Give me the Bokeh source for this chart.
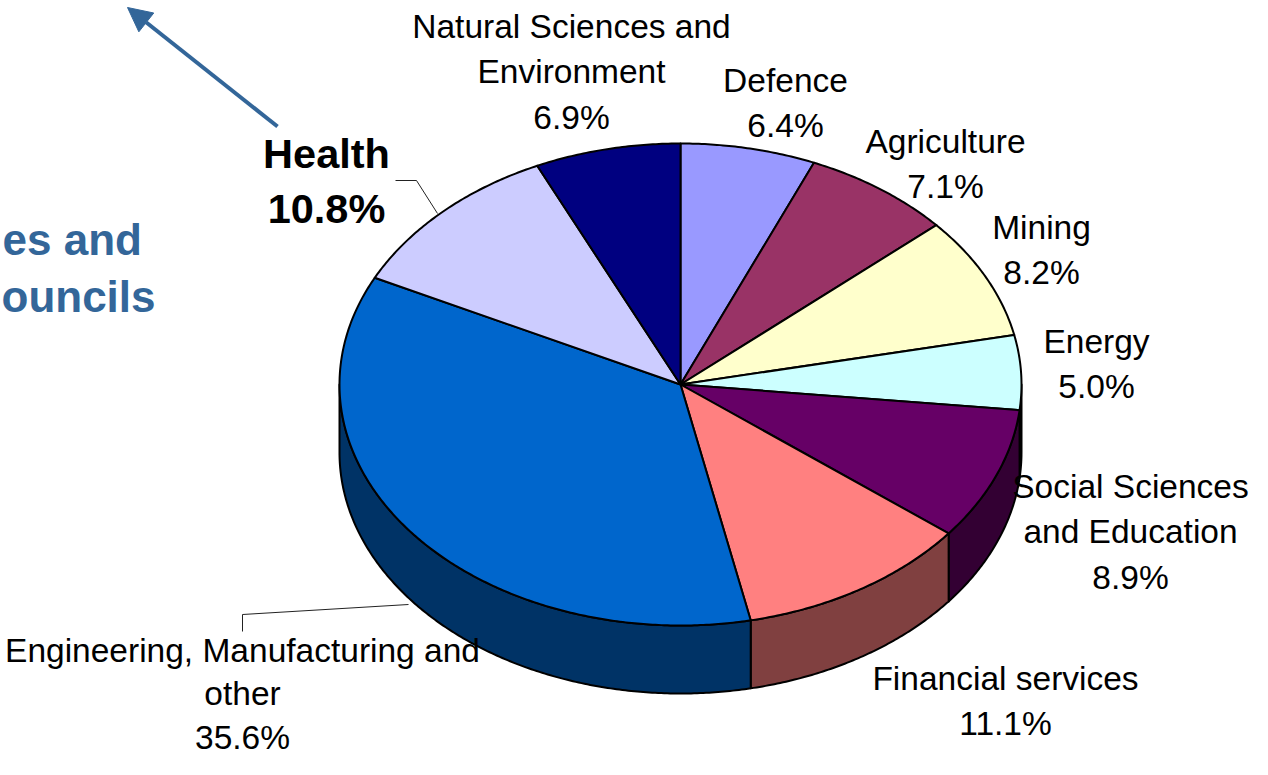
import numpy as np
from bokeh.plotting import figure
from bokeh.models import Range1d, Arrow, NormalHead, ColumnDataSource
from bokeh.core.properties import value
from bokeh.embed import file_html
from bokeh.resources import INLINE

# ---------------- data ----------------
sectors = ["Defence", "Agriculture", "Mining", "Energy",
           "Social Sciences and Education", "Financial services",
           "Engineering, Manufacturing and other", "Health",
           "Natural Sciences and Environment"]
shares = [6.4, 7.1, 8.2, 5.0, 8.9, 11.1, 35.6, 10.8, 6.9]
label_lines = [["Defence"], ["Agriculture"], ["Mining"], ["Energy"],
               ["Social Sciences", "and Education"], ["Financial services"],
               ["Engineering, Manufacturing and", "other"], ["Health"],
               ["Natural Sciences and", "Environment"]]
top_colors = ["#9999FF", "#993366", "#FFFFCC", "#CCFFFF", "#660066",
              "#FF8080", "#0066CC", "#CCCCFF", "#000080"]
side_colors = ["#4C4C80", "#4C1933", "#808066", "#668080", "#330033",
               "#804040", "#003366", "#666680", "#000040"]

# ---------------- layout ----------------
CX, CY, RX, RY, DEPTH = 680.0, 384.0, 341.0, 241.0, 68.0
label_anchor = [(785, 92), (945, 153), (1041, 239), (1096, 353), (1130, 498),
                (1005, 690), (242, 662), (326, 168), (571, 38)]
label_step = [45.5, 45.5, 45.5, 45.5, 45.5, 45.5, 43.5, 55.0, 45.5]
FONT = "Liberation Sans"
BLUE = "#336699"
REG_PX, BOLD_PX, SIDE_PX = 33.5, 41.5, 44.0
BASE_SHIFT = 0.36  # renderer places alphabetic baseline ~0.36em low

p = figure(width=1252, height=759, output_backend="svg", toolbar_location=None,
           x_range=Range1d(0, 1252), y_range=Range1d(759, 0),
           min_border=0, outline_line_color=None)
p.axis.visible = False
p.grid.visible = False
p.background_fill_color = "white"
p.border_fill_color = "white"

cum = np.concatenate([[0.0], np.cumsum(shares)])
t_start = 90.0 - 360.0 * cum[:-1] / 100.0
t_end = 90.0 - 360.0 * cum[1:] / 100.0


def arc(t0, t1, n):
    t = np.radians(np.linspace(t0, t1, n))
    return CX + RX * np.cos(t), CY - RY * np.sin(t)

# side walls (front half, t in [-180, 0])
sx, sy, sc = [], [], []
for i in range(len(shares)):
    hi = min(t_start[i], 0.0)
    lo = max(t_end[i], -180.0)
    if hi <= lo:
        continue
    n = max(4, int((hi - lo) * 2))
    ax, ay = arc(hi, lo, n)
    xs = np.concatenate([ax, ax[::-1]])
    ys = np.concatenate([ay, ay[::-1] + DEPTH])
    sx.append(xs.tolist()); sy.append(ys.tolist()); sc.append(side_colors[i])
p.patches(xs=sx, ys=sy, fill_color=sc, line_color="black", line_width=2,
          line_join="round")

# top faces
tx, ty = [], []
for i in range(len(shares)):
    n = max(4, int((t_start[i] - t_end[i]) * 2))
    ax, ay = arc(t_start[i], t_end[i], n)
    tx.append([CX] + ax.tolist()); ty.append([CY] + ay.tolist())
p.patches(xs=tx, ys=ty, fill_color=top_colors, line_color="black",
          line_width=2, line_join="round")

# leader lines
p.line(x=[395, 416, 437], y=[180, 180, 213], line_color="#222222", line_width=1)
p.line(x=[242, 242, 408], y=[631, 614, 604], line_color="#222222", line_width=1)

# labels
reg = dict(x=[], y=[], text=[])
bold = dict(x=[], y=[], text=[])
for i in range(len(shares)):
    x0, y0 = label_anchor[i]
    lines = label_lines[i] + ["%.1f%%" % shares[i]]
    is_bold = sectors[i] == "Health"
    target = bold if is_bold else reg
    shift = BASE_SHIFT * (BOLD_PX if is_bold else REG_PX)
    for k, ln in enumerate(lines):
        target["x"].append(x0)
        target["y"].append(y0 + label_step[i] * k - shift)
        target["text"].append(ln)

p.text(x="x", y="y", text="text", source=ColumnDataSource(reg),
       text_font=value(FONT), text_font_size=f"{REG_PX}px", text_color="black",
       text_align="center", text_baseline="alphabetic")
p.text(x="x", y="y", text="text", source=ColumnDataSource(bold),
       text_font=value(FONT), text_font_size=f"{BOLD_PX}px", text_font_style="bold",
       text_color="black", text_align="center", text_baseline="alphabetic")

# cropped side text
side_words = ["es and", "ouncils"]
side_base = [255, 312]
side_txt = dict(x=[2, 1], y=[b - BASE_SHIFT * SIDE_PX for b in side_base],
                text=side_words)
p.text(x="x", y="y", text="text", source=ColumnDataSource(side_txt),
       text_font=value(FONT), text_font_size=f"{SIDE_PX}px", text_font_style="bold",
       text_color=BLUE, text_align="left", text_baseline="alphabetic")

# arrow
p.add_layout(Arrow(end=NormalHead(size=24, fill_color=BLUE, line_color=BLUE),
                   x_start=277, y_start=126, x_end=127, y_end=7,
                   line_color=BLUE, line_width=4))

open("out.html", "w").write(file_html(p, INLINE))
